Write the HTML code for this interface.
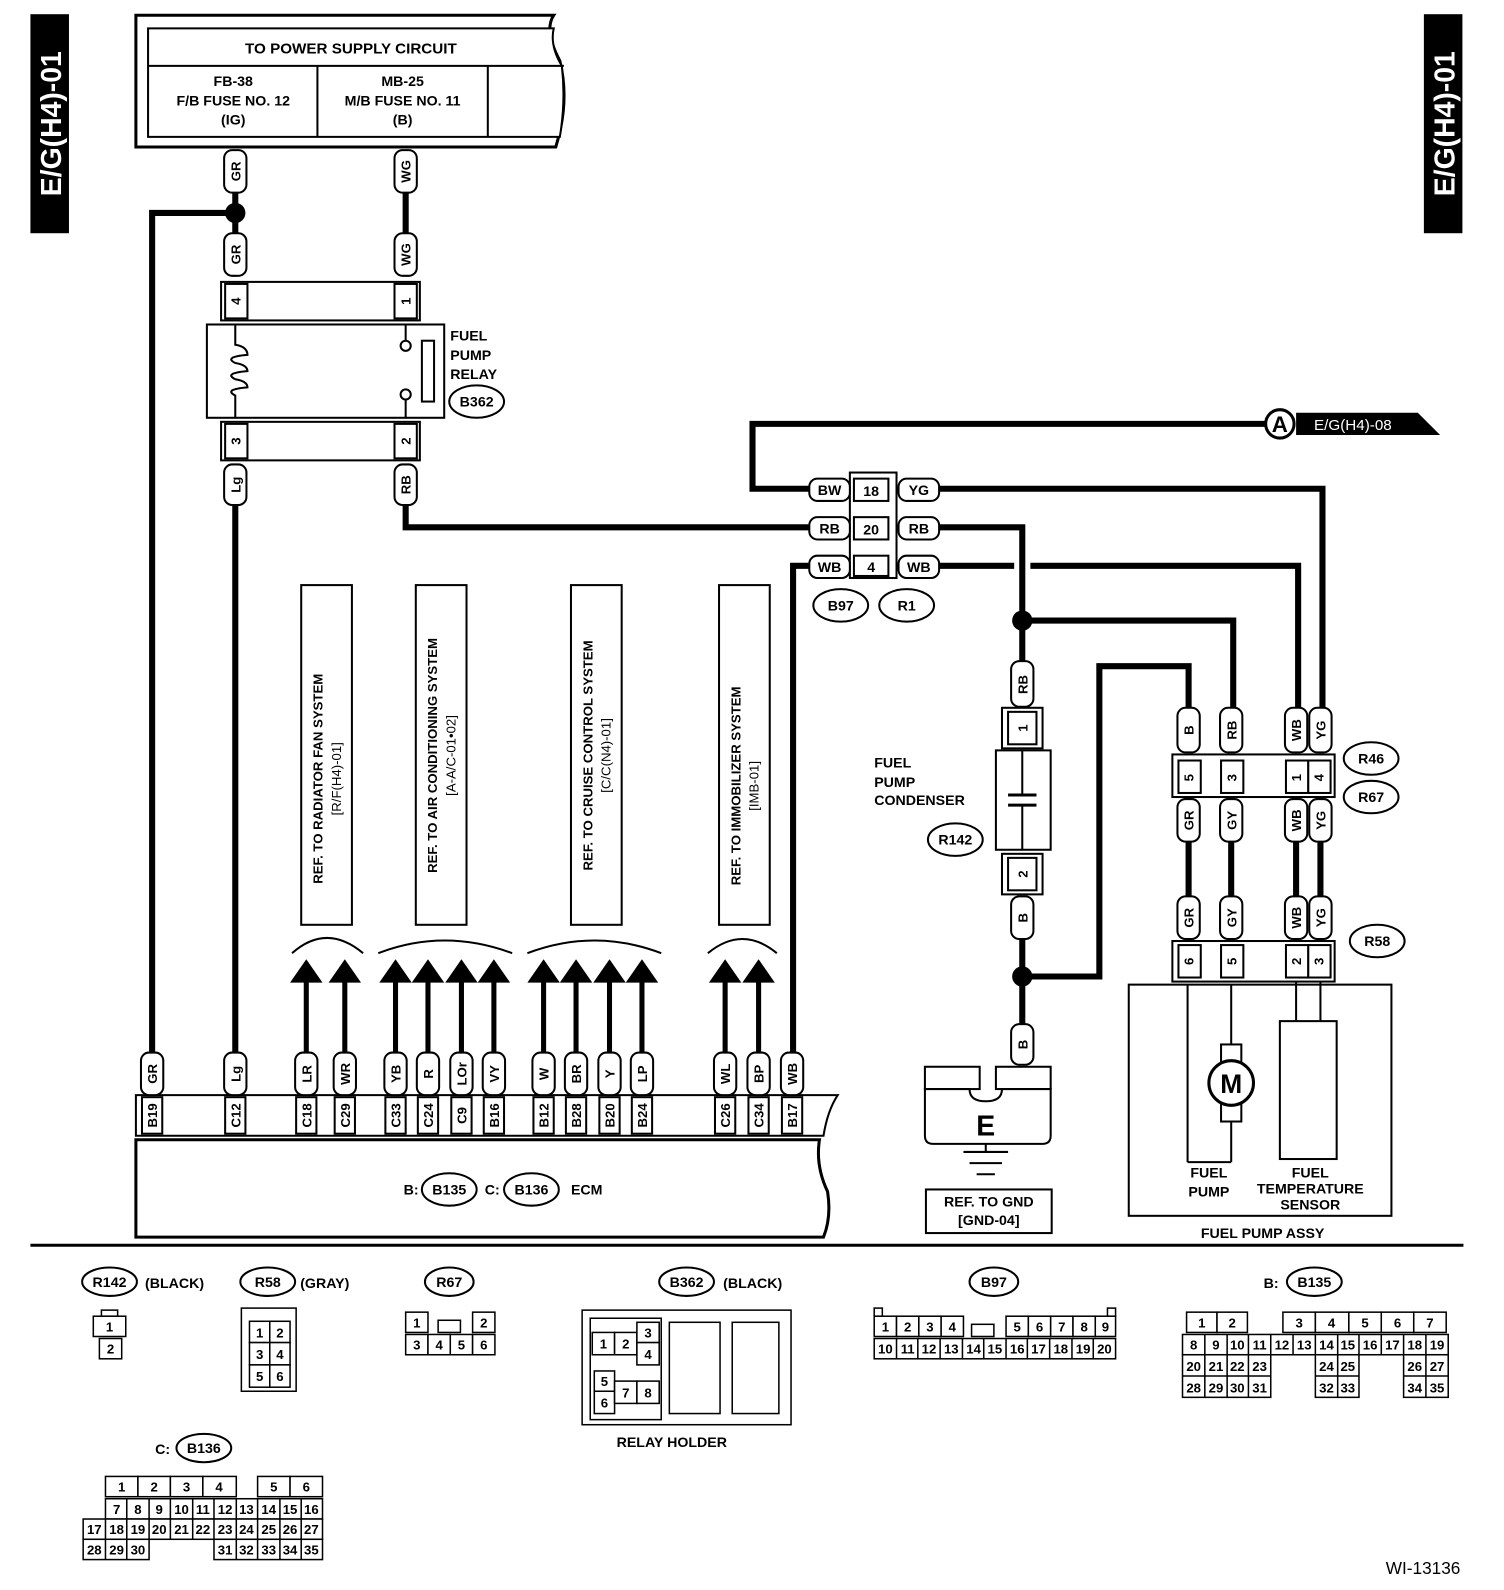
<!DOCTYPE html>
<html><head><meta charset="utf-8"><style>
html,body{margin:0;padding:0;background:#fff;}
svg{display:block;}
text{font-family:"Liberation Sans",sans-serif;font-weight:bold;fill:#000;}
</style></head><body>
<svg width="1504" height="1590" viewBox="0 0 1483 1568" preserveAspectRatio="none" xmlns="http://www.w3.org/2000/svg">
<rect width="1483" height="1568" fill="#fff"/>
<!-- side labels -->
<rect x="30" y="14" width="38" height="216" fill="#000"/>
<text transform="translate(60,122) rotate(-90)" text-anchor="middle" font-size="28" style="fill:#fff">E/G(H4)-01</text>
<rect x="1404" y="14" width="38" height="216" fill="#000"/>
<text transform="translate(1434,122) rotate(-90)" text-anchor="middle" font-size="28" style="fill:#fff">E/G(H4)-01</text>

<!-- power supply box -->
<path d="M134,15 H546 Q536,30 552,60 Q562,100 548,145 H134 Z" fill="#fff" stroke="#000" stroke-width="3"/>
<path d="M146,28 H546 Q542,45 554,65 Q558,100 552,135 H146 Z" fill="#fff" stroke="#000" stroke-width="2"/>
<line x1="146" y1="65" x2="556" y2="65" stroke="#000" stroke-width="2"/>
<line x1="313" y1="65" x2="313" y2="135" stroke="#000" stroke-width="2"/>
<line x1="481" y1="65" x2="481" y2="135" stroke="#000" stroke-width="2"/>
<text x="346" y="53" text-anchor="middle" font-size="15">TO POWER SUPPLY CIRCUIT</text>
<g font-size="14" text-anchor="middle">
<text x="230" y="85">FB-38</text><text x="230" y="104">F/B FUSE NO. 12</text><text x="230" y="123">(IG)</text>
<text x="397" y="85">MB-25</text><text x="397" y="104">M/B FUSE NO. 11</text><text x="397" y="123">(B)</text>
</g>

<!-- wires -->
<g fill="none" stroke="#000" stroke-width="6" stroke-linejoin="miter">
<polyline points="232,190 232,230"/>
<polyline points="232,210 150,210 150,1040"/>
<polyline points="400,190 400,230"/>
<polyline points="232,498 232,1040"/>
<polyline points="400,498 400,520 800,520"/>
<polyline points="1250,418 742,418 742,482 800,482"/>
<polyline points="800,558 782,558 782,1040"/>
<polyline points="926,482 1304,482 1304,700"/>
<polyline points="926,520 1008,520 1008,652"/>
<polyline points="926,558 1000,558"/>
<polyline points="1016,558 1280,558 1280,700"/>
<polyline points="1008,612 1216,612 1216,700"/>
<polyline points="1172,700 1172,657 1084,657 1084,963 1008,963"/>
<polyline points="1008,926 1008,1010"/>
<line x1="1172" y1="830" x2="1172" y2="884"/><line x1="1214" y1="830" x2="1214" y2="884"/>
<line x1="1278" y1="830" x2="1278" y2="884"/><line x1="1302" y1="830" x2="1302" y2="884"/>
</g>
<circle cx="232" cy="210" r="10"/>
<circle cx="1008" cy="612" r="10"/>
<circle cx="1008" cy="963" r="10"/>

<!-- A pennant -->
<circle cx="1262" cy="418" r="14" fill="#fff" stroke="#000" stroke-width="3"/>
<text x="1262" y="426" text-anchor="middle" font-size="22">A</text>
<polygon points="1278,407 1398,407 1420,429 1278,429" fill="#000"/>
<text x="1334" y="424" text-anchor="middle" font-size="15" style="fill:#fff;font-weight:normal">E/G(H4)-08</text>

<!-- relay -->
<g fill="#fff" stroke="#000" stroke-width="2">
<rect x="218" y="278" width="196" height="38"/>
<rect x="222" y="280" width="22" height="34"/><rect x="389" y="280" width="22" height="34"/>
<rect x="204" y="320" width="234" height="92"/>
<rect x="218" y="416" width="196" height="38"/>
<rect x="222" y="418" width="22" height="34"/><rect x="389" y="418" width="22" height="34"/>
<rect x="416" y="336" width="12" height="60"/>
<path d="M232,320 V340 Q244,342 244,350 Q220,352 232,358 Q244,360 244,366 Q220,368 232,374 Q244,376 244,382 Q220,384 232,390 V412" fill="none"/>
<line x1="400" y1="320" x2="400" y2="336"/><circle cx="400" cy="341" r="5"/>
<line x1="400" y1="412" x2="400" y2="394"/><circle cx="400" cy="389" r="5"/>
</g>
<g font-size="14">
<text x="444" y="336">FUEL</text><text x="444" y="355">PUMP</text><text x="444" y="374">RELAY</text>
</g>

<!-- pills vertical -->
<g fill="#fff" stroke="#000" stroke-width="2">
<rect x="221" y="148" width="22" height="42" rx="8"/><rect x="389" y="148" width="22" height="42" rx="8"/>
<rect x="221" y="230" width="22" height="42" rx="8"/><rect x="389" y="230" width="22" height="42" rx="8"/>
<rect x="221" y="458" width="22" height="40" rx="8"/><rect x="389" y="458" width="22" height="40" rx="8"/>
<rect x="997" y="652" width="22" height="45" rx="8"/>
<rect x="997" y="884" width="22" height="42" rx="8"/>
<rect x="997" y="1010" width="22" height="40" rx="8"/>
<rect x="1161" y="698" width="22" height="44" rx="8"/><rect x="1203" y="698" width="22" height="44" rx="8"/>
<rect x="1267" y="698" width="22" height="44" rx="8"/><rect x="1291" y="698" width="22" height="44" rx="8"/>
<rect x="1161" y="788" width="22" height="42" rx="8"/><rect x="1203" y="788" width="22" height="42" rx="8"/>
<rect x="1267" y="788" width="22" height="42" rx="8"/><rect x="1291" y="788" width="22" height="42" rx="8"/>
<rect x="1161" y="884" width="22" height="42" rx="8"/><rect x="1203" y="884" width="22" height="42" rx="8"/>
<rect x="1267" y="884" width="22" height="42" rx="8"/><rect x="1291" y="884" width="22" height="42" rx="8"/>
</g>
<g font-size="13" text-anchor="middle">
<text transform="translate(237,169) rotate(-90)">GR</text><text transform="translate(405,169) rotate(-90)">WG</text>
<text transform="translate(237,251) rotate(-90)">GR</text><text transform="translate(405,251) rotate(-90)">WG</text>
<text transform="translate(237,478) rotate(-90)">Lg</text><text transform="translate(405,478) rotate(-90)">RB</text>
<text transform="translate(237,297) rotate(-90)">4</text><text transform="translate(405,297) rotate(-90)">1</text>
<text transform="translate(237,435) rotate(-90)">3</text><text transform="translate(405,435) rotate(-90)">2</text>
<text transform="translate(1013,675) rotate(-90)">RB</text>
<text transform="translate(1013,905) rotate(-90)">B</text>
<text transform="translate(1013,1030) rotate(-90)">B</text>
<text transform="translate(1177,720) rotate(-90)">B</text><text transform="translate(1219,720) rotate(-90)">RB</text>
<text transform="translate(1283,720) rotate(-90)">WB</text><text transform="translate(1307,720) rotate(-90)">YG</text>
<text transform="translate(1177,809) rotate(-90)">GR</text><text transform="translate(1219,809) rotate(-90)">GY</text>
<text transform="translate(1283,809) rotate(-90)">WB</text><text transform="translate(1307,809) rotate(-90)">YG</text>
<text transform="translate(1177,905) rotate(-90)">GR</text><text transform="translate(1219,905) rotate(-90)">GY</text>
<text transform="translate(1283,905) rotate(-90)">WB</text><text transform="translate(1307,905) rotate(-90)">YG</text>
</g>

<!-- B97/R1 connector -->
<g fill="#fff" stroke="#000" stroke-width="2">
<rect x="838" y="466" width="46" height="104"/>
<rect x="842" y="472" width="34" height="22"/><rect x="842" y="510" width="34" height="22"/><rect x="842" y="548" width="34" height="20"/>
<rect x="798" y="472" width="40" height="22" rx="8"/><rect x="798" y="510" width="40" height="22" rx="8"/><rect x="798" y="548" width="40" height="22" rx="8"/>
<rect x="886" y="472" width="40" height="22" rx="8"/><rect x="886" y="510" width="40" height="22" rx="8"/><rect x="886" y="548" width="40" height="22" rx="8"/>
<ellipse cx="829" cy="597" rx="27" ry="16"/><ellipse cx="894" cy="597" rx="27" ry="16"/>
<ellipse cx="470" cy="396" rx="27" ry="16"/>
<ellipse cx="942" cy="828" rx="27" ry="16"/>
<ellipse cx="1352" cy="748" rx="27" ry="16"/><ellipse cx="1352" cy="786" rx="27" ry="16"/>
<ellipse cx="1358" cy="928" rx="27" ry="16"/>
</g>
<g font-size="14" text-anchor="middle">
<text x="818" y="488">BW</text><text x="818" y="526">RB</text><text x="818" y="564">WB</text>
<text x="906" y="488">YG</text><text x="906" y="526">RB</text><text x="906" y="564">WB</text>
<text x="859" y="489">18</text><text x="859" y="527">20</text><text x="859" y="564">4</text>
<text x="829" y="602">B97</text><text x="894" y="602">R1</text>
<text x="470" y="401">B362</text><text x="942" y="833">R142</text>
<text x="1352" y="753">R46</text><text x="1352" y="791">R67</text><text x="1358" y="933">R58</text>
</g>

<!-- condenser -->
<g fill="#fff" stroke="#000" stroke-width="2">
<rect x="988" y="698" width="40" height="40"/><rect x="994" y="702" width="28" height="32"/>
<rect x="982" y="740" width="54" height="98"/>
<line x1="1008" y1="740" x2="1008" y2="784"/><line x1="1008" y1="794" x2="1008" y2="838"/>
<line x1="994" y1="784" x2="1022" y2="784" stroke-width="3"/><line x1="994" y1="794" x2="1022" y2="794" stroke-width="3"/>
<rect x="988" y="842" width="40" height="40"/><rect x="994" y="846" width="28" height="32"/>
</g>
<text transform="translate(1013,718) rotate(-90)" text-anchor="middle" font-size="13">1</text>
<text transform="translate(1013,862) rotate(-90)" text-anchor="middle" font-size="13">2</text>
<g font-size="14"><text x="862" y="757">FUEL</text><text x="862" y="776">PUMP</text><text x="862" y="794">CONDENSER</text></g>

<!-- R46/R67, R58 -->
<g fill="#fff" stroke="#000" stroke-width="2">
<rect x="1156" y="744" width="160" height="42"/>
<rect x="1162" y="750" width="22" height="32"/><rect x="1204" y="750" width="22" height="32"/>
<rect x="1268" y="750" width="22" height="32"/><rect x="1290" y="750" width="22" height="32"/>
<rect x="1156" y="928" width="160" height="40"/>
<rect x="1162" y="932" width="22" height="32"/><rect x="1204" y="932" width="22" height="32"/>
<rect x="1268" y="932" width="22" height="32"/><rect x="1290" y="932" width="22" height="32"/>
<rect x="1113" y="971" width="259" height="228"/>
<line x1="1171" y1="971" x2="1171" y2="1146"/><line x1="1214" y1="971" x2="1214" y2="1146"/>
<line x1="1171" y1="1146" x2="1214" y2="1146"/>
<rect x="1204" y="1030" width="20" height="76"/>
<circle cx="1214" cy="1068" r="22" stroke-width="3"/>
<rect x="1262" y="1007" width="56" height="136"/>
<line x1="1278" y1="968" x2="1278" y2="1007"/><line x1="1302" y1="968" x2="1302" y2="1007"/>
</g>
<text x="1214" y="1078" text-anchor="middle" font-size="26">M</text>
<g font-size="13" text-anchor="middle">
<text transform="translate(1177,767) rotate(-90)">5</text><text transform="translate(1219,767) rotate(-90)">3</text>
<text transform="translate(1283,767) rotate(-90)">1</text><text transform="translate(1305,767) rotate(-90)">4</text>
<text transform="translate(1177,948) rotate(-90)">6</text><text transform="translate(1219,948) rotate(-90)">5</text>
<text transform="translate(1283,948) rotate(-90)">2</text><text transform="translate(1305,948) rotate(-90)">3</text>
</g>
<g font-size="14" text-anchor="middle">
<text x="1192" y="1161">FUEL</text><text x="1192" y="1180">PUMP</text>
<text x="1292" y="1161">FUEL</text><text x="1292" y="1177">TEMPERATURE</text><text x="1292" y="1193">SENSOR</text>
<text x="1245" y="1221">FUEL PUMP ASSY</text>
</g>

<!-- ground -->
<g fill="#fff" stroke="#000" stroke-width="2">
<rect x="912" y="1052" width="54" height="22"/><rect x="982" y="1052" width="54" height="22"/>
<path d="M912,1074 H956 Q956,1086 972,1086 Q988,1086 988,1074 H1036 V1120 Q1036,1128 1028,1128 H920 Q912,1128 912,1120 Z"/>
<line x1="972" y1="1128" x2="972" y2="1136"/>
<line x1="950" y1="1136" x2="994" y2="1136"/><line x1="956" y1="1147" x2="988" y2="1147"/><line x1="963" y1="1158" x2="981" y2="1158"/>
<rect x="913" y="1173" width="124" height="43"/>
</g>
<text x="972" y="1120" text-anchor="middle" font-size="28">E</text>
<text x="975" y="1190" text-anchor="middle" font-size="14">REF. TO GND</text>
<text x="975" y="1208" text-anchor="middle" font-size="14">[GND-04]</text>

<!-- ref boxes -->
<g fill="#fff" stroke="#000" stroke-width="2">
<rect x="297" y="577" width="50" height="335"/><rect x="410" y="577" width="50" height="335"/>
<rect x="563" y="577" width="50" height="335"/><rect x="709" y="577" width="50" height="335"/>
</g>
<g font-size="13" text-anchor="middle">
<text transform="translate(318,768) rotate(-90)">REF. TO RADIATOR FAN SYSTEM</text>
<text transform="translate(336,768) rotate(-90)" style="font-weight:normal">[R/F(H4)-01]</text>
<text transform="translate(431,745) rotate(-90)">REF. TO AIR CONDITIONING SYSTEM</text>
<text transform="translate(449,745) rotate(-90)" style="font-weight:normal">[A-A/C-01•02]</text>
<text transform="translate(584,745) rotate(-90)">REF. TO CRUISE CONTROL SYSTEM</text>
<text transform="translate(602,745) rotate(-90)" style="font-weight:normal">[C/C(N4)-01]</text>
<text transform="translate(730,775) rotate(-90)">REF. TO IMMOBILIZER SYSTEM</text>
<text transform="translate(748,775) rotate(-90)" style="font-weight:normal">[IMB-01]</text>
</g>
<!-- arcs -->
<g fill="none" stroke="#000" stroke-width="2">
<path d="M288,940 Q322,910 358,940"/><path d="M373,940 Q438,915 505,940"/>
<path d="M520,940 Q586,915 652,940"/><path d="M698,940 Q732,912 766,940"/>
</g>
<!-- arrows -->
<g stroke="#000" stroke-width="5">
<line x1="302" y1="966" x2="302" y2="1040"/><line x1="340" y1="966" x2="340" y2="1040"/>
<line x1="390" y1="966" x2="390" y2="1040"/><line x1="422" y1="966" x2="422" y2="1040"/>
<line x1="455" y1="966" x2="455" y2="1040"/><line x1="487" y1="966" x2="487" y2="1040"/>
<line x1="536" y1="966" x2="536" y2="1040"/><line x1="568" y1="966" x2="568" y2="1040"/>
<line x1="601" y1="966" x2="601" y2="1040"/><line x1="633" y1="966" x2="633" y2="1040"/>
<line x1="715" y1="966" x2="715" y2="1040"/><line x1="748" y1="966" x2="748" y2="1040"/>
</g>
<g fill="#000">
<polygon points="302,946 286,969 318,969"/><polygon points="340,946 324,969 356,969"/>
<polygon points="390,946 374,969 406,969"/><polygon points="422,946 406,969 438,969"/>
<polygon points="455,946 439,969 471,969"/><polygon points="487,946 471,969 503,969"/>
<polygon points="536,946 520,969 552,969"/><polygon points="568,946 552,969 584,969"/>
<polygon points="601,946 585,969 617,969"/><polygon points="633,946 617,969 649,969"/>
<polygon points="715,946 699,969 731,969"/><polygon points="748,946 732,969 764,969"/>
</g>

<!-- ECM -->
<path d="M134,1080 H826 Q816,1095 812,1120 H134 Z" fill="#fff" stroke="#000" stroke-width="2"/>
<path d="M134,1124 H808 Q804,1150 816,1175 Q820,1200 812,1220 H134 Z" fill="#fff" stroke="#000" stroke-width="3"/>
<g fill="#fff" stroke="#000" stroke-width="2">
<ellipse cx="443" cy="1173" rx="27" ry="16"/><ellipse cx="524" cy="1173" rx="27" ry="16"/>
</g>
<g font-size="14" text-anchor="middle"><text x="443" y="1178">B135</text><text x="524" y="1178">B136</text></g>
<text x="398" y="1178" font-size="14">B:</text><text x="478" y="1178" font-size="14">C:</text><text x="563" y="1178" font-size="14">ECM</text>
<g fill="#fff" stroke="#000" stroke-width="2">
<rect x="140" y="1082" width="20" height="36"/><rect x="222" y="1082" width="20" height="36"/>
<rect x="292" y="1082" width="20" height="36"/><rect x="330" y="1082" width="20" height="36"/>
<rect x="380" y="1082" width="20" height="36"/><rect x="412" y="1082" width="20" height="36"/>
<rect x="445" y="1082" width="20" height="36"/><rect x="477" y="1082" width="20" height="36"/>
<rect x="526" y="1082" width="20" height="36"/><rect x="558" y="1082" width="20" height="36"/>
<rect x="591" y="1082" width="20" height="36"/><rect x="623" y="1082" width="20" height="36"/>
<rect x="705" y="1082" width="20" height="36"/><rect x="738" y="1082" width="20" height="36"/>
<rect x="771" y="1082" width="20" height="36"/>
<rect x="139" y="1038" width="22" height="42" rx="8"/><rect x="221" y="1038" width="22" height="42" rx="8"/>
<rect x="291" y="1038" width="22" height="42" rx="8"/><rect x="329" y="1038" width="22" height="42" rx="8"/>
<rect x="379" y="1038" width="22" height="42" rx="8"/><rect x="411" y="1038" width="22" height="42" rx="8"/>
<rect x="444" y="1038" width="22" height="42" rx="8"/><rect x="476" y="1038" width="22" height="42" rx="8"/>
<rect x="525" y="1038" width="22" height="42" rx="8"/><rect x="557" y="1038" width="22" height="42" rx="8"/>
<rect x="590" y="1038" width="22" height="42" rx="8"/><rect x="622" y="1038" width="22" height="42" rx="8"/>
<rect x="704" y="1038" width="22" height="42" rx="8"/><rect x="737" y="1038" width="22" height="42" rx="8"/>
<rect x="770" y="1038" width="22" height="42" rx="8"/>
</g>
<g font-size="13" text-anchor="middle">
<text transform="translate(155,1059) rotate(-90)">GR</text><text transform="translate(237,1059) rotate(-90)">Lg</text>
<text transform="translate(307,1059) rotate(-90)">LR</text><text transform="translate(345,1059) rotate(-90)">WR</text>
<text transform="translate(395,1059) rotate(-90)">YB</text><text transform="translate(427,1059) rotate(-90)">R</text>
<text transform="translate(460,1059) rotate(-90)">LOr</text><text transform="translate(492,1059) rotate(-90)">VY</text>
<text transform="translate(541,1059) rotate(-90)">W</text><text transform="translate(573,1059) rotate(-90)">BR</text>
<text transform="translate(606,1059) rotate(-90)">Y</text><text transform="translate(638,1059) rotate(-90)">LP</text>
<text transform="translate(720,1059) rotate(-90)">WL</text><text transform="translate(753,1059) rotate(-90)">BP</text>
<text transform="translate(786,1059) rotate(-90)">WB</text>
<text transform="translate(155,1100) rotate(-90)">B19</text><text transform="translate(237,1100) rotate(-90)">C12</text>
<text transform="translate(307,1100) rotate(-90)">C18</text><text transform="translate(345,1100) rotate(-90)">C29</text>
<text transform="translate(395,1100) rotate(-90)">C33</text><text transform="translate(427,1100) rotate(-90)">C24</text>
<text transform="translate(460,1100) rotate(-90)">C9</text><text transform="translate(492,1100) rotate(-90)">B16</text>
<text transform="translate(541,1100) rotate(-90)">B12</text><text transform="translate(573,1100) rotate(-90)">B28</text>
<text transform="translate(606,1100) rotate(-90)">B20</text><text transform="translate(638,1100) rotate(-90)">B24</text>
<text transform="translate(720,1100) rotate(-90)">C26</text><text transform="translate(753,1100) rotate(-90)">C34</text>
<text transform="translate(786,1100) rotate(-90)">B17</text>
</g>

<line x1="30" y1="1228" x2="1443" y2="1228" stroke="#000" stroke-width="3"/>

<!-- bottom connector diagrams -->
<g fill="#fff" stroke="#000" stroke-width="2">
<ellipse cx="108" cy="1264" rx="27" ry="14"/><ellipse cx="264" cy="1264" rx="27" ry="14"/>
<ellipse cx="443" cy="1264" rx="24" ry="14"/><ellipse cx="677" cy="1264" rx="27" ry="14"/>
<ellipse cx="980" cy="1264" rx="24" ry="14"/><ellipse cx="1296" cy="1264" rx="27" ry="14"/>
<ellipse cx="201" cy="1428" rx="27" ry="14"/>
</g>
<g font-size="14" text-anchor="middle">
<text x="108" y="1269">R142</text><text x="264" y="1269">R58</text><text x="443" y="1269">R67</text>
<text x="677" y="1269">B362</text><text x="980" y="1269">B97</text><text x="1296" y="1269">B135</text>
<text x="201" y="1433">B136</text>
</g>
<g font-size="14">
<text x="143" y="1270">(BLACK)</text><text x="296" y="1270">(GRAY)</text><text x="713" y="1270">(BLACK)</text>
<text x="1246" y="1270">B:</text><text x="153" y="1434">C:</text>
<text x="608" y="1427">RELAY HOLDER</text>
</g>
<text x="1440" y="1552" text-anchor="end" font-size="17" style="font-weight:normal">WI-13136</text>

<g fill="#fff" stroke="#000" stroke-width="1.5">
<rect x="100" y="1292" width="16" height="6"/><rect x="92" y="1298" width="32" height="20"/><rect x="98" y="1320" width="22" height="20"/>
<rect x="238" y="1290" width="54" height="82"/>
<rect x="246" y="1303" width="20" height="21"/><rect x="266" y="1303" width="20" height="21"/>
<rect x="246" y="1324" width="20" height="22"/><rect x="266" y="1324" width="20" height="22"/>
<rect x="246" y="1346" width="20" height="22"/><rect x="266" y="1346" width="20" height="22"/>
<rect x="400" y="1294" width="22" height="20"/><rect x="466" y="1294" width="22" height="20"/><rect x="432" y="1302" width="22" height="12"/>
<rect x="400" y="1316" width="22" height="20"/><rect x="422" y="1316" width="22" height="20"/><rect x="444" y="1316" width="22" height="20"/><rect x="466" y="1316" width="22" height="20"/>
<rect x="574" y="1292" width="206" height="113"/>
<rect x="582" y="1300" width="70" height="100"/>
<rect x="584" y="1314" width="22" height="22"/><rect x="606" y="1314" width="22" height="22"/>
<rect x="628" y="1304" width="22" height="20"/><rect x="628" y="1324" width="22" height="22"/>
<rect x="586" y="1352" width="20" height="20"/><rect x="586" y="1372" width="20" height="22"/>
<rect x="606" y="1362" width="22" height="22"/><rect x="628" y="1362" width="22" height="22"/>
<rect x="660" y="1304" width="50" height="90"/><rect x="722" y="1304" width="46" height="90"/>
<rect x="862" y="1290" width="8" height="8"/><rect x="1092" y="1290" width="8" height="8"/>
<rect x="862" y="1298" width="22" height="20"/><rect x="884" y="1298" width="22" height="20"/><rect x="906" y="1298" width="22" height="20"/><rect x="928" y="1298" width="22" height="20"/>
<rect x="958" y="1306" width="22" height="12"/>
<rect x="992" y="1298" width="22" height="20"/><rect x="1014" y="1298" width="22" height="20"/><rect x="1036" y="1298" width="22" height="20"/><rect x="1058" y="1298" width="22" height="20"/><rect x="1080" y="1298" width="20" height="20"/>
<rect x="862" y="1320" width="238" height="20"/>
<rect x="1170" y="1294" width="30" height="20"/><rect x="1200" y="1294" width="30" height="20"/>
<rect x="1265" y="1294" width="32" height="20"/><rect x="1297" y="1294" width="33" height="20"/><rect x="1330" y="1294" width="32" height="20"/><rect x="1362" y="1294" width="32" height="20"/><rect x="1394" y="1294" width="32" height="20"/>
<rect x="1166" y="1316" width="262" height="20"/>
<rect x="1166" y="1336" width="87" height="42"/><rect x="1297" y="1336" width="43" height="42"/><rect x="1384" y="1336" width="44" height="42"/>
<rect x="104" y="1456" width="32" height="20"/><rect x="136" y="1456" width="32" height="20"/><rect x="168" y="1456" width="32" height="20"/><rect x="200" y="1456" width="33" height="20"/>
<rect x="254" y="1456" width="32" height="20"/><rect x="286" y="1456" width="32" height="20"/>
<rect x="104" y="1478" width="214" height="20"/>
<rect x="82" y="1498" width="236" height="20"/>
<rect x="82" y="1518" width="65" height="20"/><rect x="211" y="1518" width="107" height="20"/>
</g>
<g stroke="#000" stroke-width="1.5">
<path d="M884,1320V1340M905,1320V1340M927,1320V1340M949,1320V1340M970,1320V1340M992,1320V1340M1013,1320V1340M1035,1320V1340M1057,1320V1340M1078,1320V1340"/>
<path d="M1188,1316V1336M1210,1316V1336M1231,1316V1336M1253,1316V1336M1275,1316V1336M1297,1316V1336M1319,1316V1336M1340,1316V1336M1362,1316V1336M1384,1316V1336M1406,1316V1336"/>
<path d="M1166,1357H1253M1297,1357H1340M1384,1357H1428M1188,1336V1378M1210,1336V1378M1231,1336V1378M1319,1336V1378M1406,1336V1378"/>
<path d="M125,1478V1498M147,1478V1498M168,1478V1498M190,1478V1498M211,1478V1498M233,1478V1498M254,1478V1498M276,1478V1498M297,1478V1498"/>
<path d="M104,1498V1518M125,1498V1518M147,1498V1518M168,1498V1518M190,1498V1518M211,1498V1518M233,1498V1518M254,1498V1518M276,1498V1518M297,1498V1518"/>
<path d="M104,1518V1538M125,1518V1538M233,1518V1538M254,1518V1538M276,1518V1538M297,1518V1538"/>
</g>
<g font-size="13" text-anchor="middle" style="font-weight:normal">
<text x="108" y="1313">1</text><text x="109" y="1335">2</text>
<text x="256" y="1319">1</text><text x="276" y="1319">2</text><text x="256" y="1340">3</text><text x="276" y="1340">4</text><text x="256" y="1362">5</text><text x="276" y="1362">6</text>
<text x="411" y="1309">1</text><text x="477" y="1309">2</text><text x="411" y="1331">3</text><text x="433" y="1331">4</text><text x="455" y="1331">5</text><text x="477" y="1331">6</text>
<text x="595" y="1330">1</text><text x="617" y="1330">2</text><text x="639" y="1319">3</text><text x="639" y="1340">4</text>
<text x="596" y="1367">5</text><text x="596" y="1388">6</text><text x="617" y="1378">7</text><text x="639" y="1378">8</text>
<text x="873" y="1313">1</text><text x="895" y="1313">2</text><text x="917" y="1313">3</text><text x="939" y="1313">4</text>
<text x="1003" y="1313">5</text><text x="1025" y="1313">6</text><text x="1047" y="1313">7</text><text x="1069" y="1313">8</text><text x="1090" y="1313">9</text>
<text x="873" y="1335">10</text><text x="895" y="1335">11</text><text x="916" y="1335">12</text><text x="938" y="1335">13</text><text x="960" y="1335">14</text><text x="981" y="1335">15</text><text x="1003" y="1335">16</text><text x="1024" y="1335">17</text><text x="1046" y="1335">18</text><text x="1068" y="1335">19</text><text x="1089" y="1335">20</text>
<text x="1185" y="1309">1</text><text x="1215" y="1309">2</text><text x="1281" y="1309">3</text><text x="1313" y="1309">4</text><text x="1346" y="1309">5</text><text x="1378" y="1309">6</text><text x="1410" y="1309">7</text>
<text x="1177" y="1331">8</text><text x="1199" y="1331">9</text><text x="1220" y="1331">10</text><text x="1242" y="1331">11</text><text x="1264" y="1331">12</text><text x="1286" y="1331">13</text><text x="1308" y="1331">14</text><text x="1329" y="1331">15</text><text x="1351" y="1331">16</text><text x="1373" y="1331">17</text><text x="1395" y="1331">18</text><text x="1417" y="1331">19</text>
<text x="1177" y="1352">20</text><text x="1199" y="1352">21</text><text x="1220" y="1352">22</text><text x="1242" y="1352">23</text><text x="1308" y="1352">24</text><text x="1329" y="1352">25</text><text x="1395" y="1352">26</text><text x="1417" y="1352">27</text>
<text x="1177" y="1373">28</text><text x="1199" y="1373">29</text><text x="1220" y="1373">30</text><text x="1242" y="1373">31</text><text x="1308" y="1373">32</text><text x="1329" y="1373">33</text><text x="1395" y="1373">34</text><text x="1417" y="1373">35</text>
<text x="120" y="1471">1</text><text x="152" y="1471">2</text><text x="184" y="1471">3</text><text x="216" y="1471">4</text><text x="270" y="1471">5</text><text x="302" y="1471">6</text>
<text x="115" y="1493">7</text><text x="136" y="1493">8</text><text x="157" y="1493">9</text><text x="179" y="1493">10</text><text x="200" y="1493">11</text><text x="222" y="1493">12</text><text x="243" y="1493">13</text><text x="265" y="1493">14</text><text x="286" y="1493">15</text><text x="307" y="1493">16</text>
<text x="93" y="1513">17</text><text x="115" y="1513">18</text><text x="136" y="1513">19</text><text x="157" y="1513">20</text><text x="179" y="1513">21</text><text x="200" y="1513">22</text><text x="222" y="1513">23</text><text x="243" y="1513">24</text><text x="265" y="1513">25</text><text x="286" y="1513">26</text><text x="307" y="1513">27</text>
<text x="93" y="1533">28</text><text x="115" y="1533">29</text><text x="136" y="1533">30</text><text x="222" y="1533">31</text><text x="243" y="1533">32</text><text x="265" y="1533">33</text><text x="286" y="1533">34</text><text x="307" y="1533">35</text>
</g>
</svg>
</body></html>
